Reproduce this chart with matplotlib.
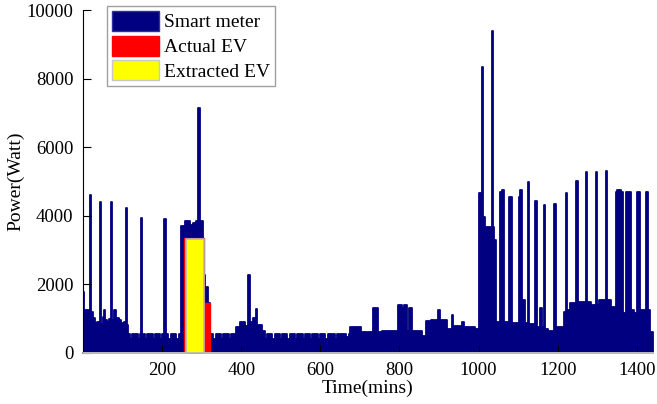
# -*- coding: UTF-8 -*-

# 繪圖套件
import matplotlib
matplotlib.use('Agg')
import matplotlib.pyplot as plt
from matplotlib.patches import Patch

plt.rcParams['font.family'] = ['Liberation Serif', 'DejaVu Serif']

# 智慧電表功率 (分鐘, 瓦) 每個點代表從該分鐘起的功率
meter_t = [1, 3, 6, 15, 18, 21, 25, 30, 35, 42, 45, 50, 53, 56, 62, 67, 71, 74,
           78, 84, 90, 96, 103, 108, 111, 115, 120, 125, 138, 144, 146, 149,
           156, 162, 176, 182, 195, 201, 206, 209, 216, 222, 236, 242,
           249, 257, 270, 278, 285, 292, 295, 304, 308, 316,
           322, 330, 336, 349, 355, 368, 374, 386,
           388, 397, 409, 418, 421, 430, 436, 438, 441, 453,
           460, 466, 479, 485, 498, 504, 517, 523, 536, 542, 555, 561, 574,
           580, 593, 599, 611, 620, 637, 641, 666, 672, 676, 683, 702,
           733, 746, 755, 796, 806, 812, 818, 823, 832, 858, 868, 880, 895,
           898, 903, 920, 932, 936, 955, 958, 962, 990,
           1001, 1009, 1012, 1016, 1033, 1036, 1040, 1044, 1055, 1058, 1063,
           1077, 1085, 1101, 1104, 1109, 1116, 1124, 1128, 1143, 1147, 1154,
           1160, 1165, 1168, 1175, 1191, 1195, 1210, 1215, 1220, 1223, 1232,
           1246, 1250, 1271, 1274, 1284, 1296, 1300, 1305, 1321, 1325, 1335,
           1346, 1350, 1360, 1365, 1373, 1379, 1386, 1392, 1400, 1408, 1422,
           1427, 1434, 1440]
meter_p = [1780, 900, 1250, 1100, 4600, 1200, 1000, 880, 900, 4390, 850, 1050,
           1250, 950, 900, 980, 4390, 950, 1250, 1000, 950, 860, 900, 4230,
           800, 540, 400, 540, 400, 540, 3940, 540, 400, 540, 400, 540, 400,
           540, 3890, 540, 400, 540, 400, 540,
           3700, 3850, 3730, 3780, 3850, 7130, 3850, 2270, 1930, 1450,
           540, 400, 540, 400, 540, 400, 540, 600,
           760, 900, 780, 2270, 900, 1000, 850, 1280, 820, 620,
           400, 540, 400, 540, 400, 540, 400, 540, 400, 540, 400, 540, 400,
           540, 400, 540, 400, 540, 400, 540, 450, 560, 740, 760, 590,
           1295, 590, 640, 1390, 1300, 1390, 620, 1295, 620, 490, 920, 960,
           900, 1240, 950, 700, 1100, 780, 700, 900, 740, 700,
           4650, 8350, 3970, 3680, 9400, 3680, 3290, 900, 4700, 4750, 900,
           4550, 880, 4550, 4750, 1540, 880, 4990, 850, 4430, 760, 1295,
           760, 4300, 700, 620, 4350, 760, 760, 1200, 4650, 1250, 1440,
           5020, 1490, 5270, 1490, 1390, 5280, 1390, 1540, 5300, 1540, 1340,
           4700, 4750, 4700, 1150, 4700, 4700, 1250, 1150, 4700, 1250, 4700,
           1250, 610, 610]

# 實際電動車充電功率
actual_t = [1, 256, 307, 322, 1440]
actual_p = [0, 3360, 1440, 0, 0]

# 拆解出的電動車充電功率
extr_t = [1, 260, 307, 1440]
extr_p = [0, 3310, 0, 0]

navy = '#000080'

fig = plt.figure(figsize=(6.57, 4.04), dpi=100)
ax = fig.add_axes([0.1268, 0.127, 0.8667, 0.8482])

# 繪製面積圖
ax.fill_between(meter_t, meter_p, step='post', facecolor=navy,
                edgecolor=navy, linewidth=1.3, zorder=1)
ax.fill_between(actual_t, actual_p, step='post', facecolor='#ff0000',
                edgecolor='#ff0000', linewidth=1.0, zorder=2)
ax.fill_between(extr_t, extr_p, step='post', facecolor='#ffff00',
                edgecolor='#b8b8b8', linewidth=1.2, zorder=3)

# 座標軸
ax.set_xlim(1, 1440)
ax.set_ylim(0, 10000)
ax.set_xticks([200, 400, 600, 800, 1000, 1200, 1400])
ax.set_yticks([0, 2000, 4000, 6000, 8000, 10000])
ax.spines['top'].set_visible(False)
ax.spines['right'].set_visible(False)
ax.spines['bottom'].set_color('#8c8c8c')
ax.spines['bottom'].set_linewidth(1.4)
ax.tick_params(direction='in', length=6, width=0.8, labelsize=13.5, pad=7)
ax.tick_params(axis='x', color='black')
ax.set_xlabel('Time(mins)', fontsize=14, labelpad=0)
ax.set_ylabel('Power(Watt)', fontsize=14, labelpad=2)

# 圖例
handles = [Patch(facecolor=navy, edgecolor='#3030a0'),
           Patch(facecolor='#ff0000', edgecolor='#ff0000'),
           Patch(facecolor='#ffff00', edgecolor='#c8c8c8')]
leg = ax.legend(handles, ['Smart meter', 'Actual EV', 'Extracted EV'],
                loc='upper left', bbox_to_anchor=(0.0416, 1.012),
                borderaxespad=0, fontsize=14, handlelength=2.4,
                handleheight=1.2, labelspacing=0.22, handletextpad=0.3,
                borderpad=0.25, fancybox=False, framealpha=1)
leg.get_frame().set_edgecolor('#a0a0a0')
leg.get_frame().set_linewidth(1.0)

plt.savefig('out.png', dpi=100)
